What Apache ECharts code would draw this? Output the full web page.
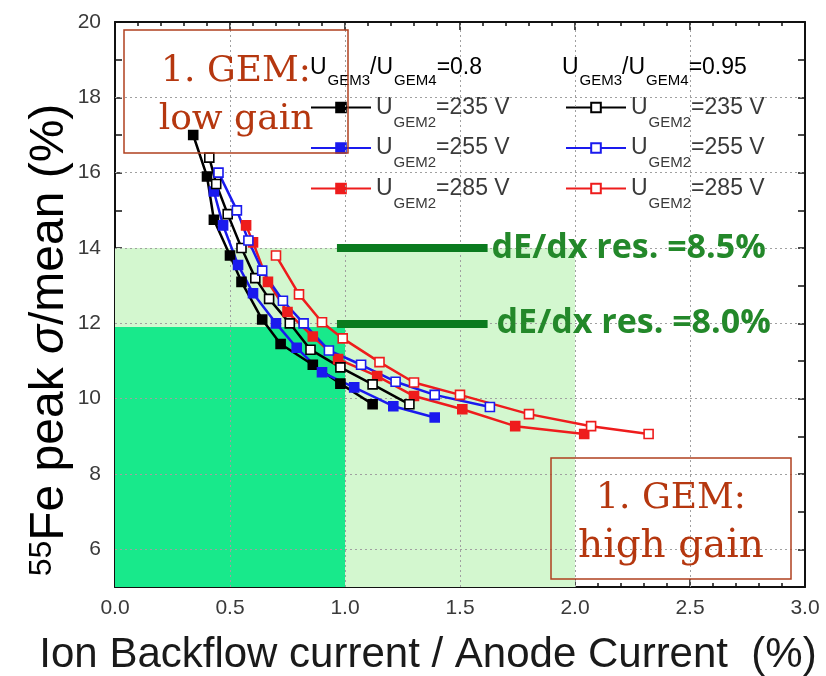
<!DOCTYPE html>
<html><head><meta charset="utf-8">
<script src="https://cdn.jsdelivr.net/npm/echarts@6/dist/echarts.min.js"></script>
<style>html,body{margin:0;padding:0;background:#fff}#c{width:826px;height:676px}</style>
</head><body><div id="c"></div>
<script>
// ---- data ----
const x_08_235 = [0.34, 0.40, 0.43, 0.50, 0.55, 0.64, 0.72, 0.86, 0.98, 1.12];
const y_08_235 = [17.0, 15.9, 14.75, 13.8, 13.1, 12.1, 11.45, 10.9, 10.4, 9.85];
const x_08_255 = [0.43, 0.47, 0.535, 0.60, 0.70, 0.79, 0.90, 1.04, 1.21, 1.39];
const y_08_255 = [15.5, 14.6, 13.55, 12.8, 12.0, 11.35, 10.7, 10.3, 9.8, 9.5];
const x_08_285 = [0.57, 0.60, 0.665, 0.75, 0.86, 0.97, 1.14, 1.30, 1.51, 1.74, 2.04];
const y_08_285 = [14.6, 14.15, 13.1, 12.3, 11.65, 11.05, 10.6, 10.07, 9.72, 9.27, 9.06];
const x_095_235 = [0.41, 0.44, 0.49, 0.55, 0.61, 0.67, 0.76, 0.85, 0.98, 1.12, 1.28];
const y_095_235 = [16.4, 15.7, 14.9, 14.0, 13.2, 12.65, 12.0, 11.3, 10.83, 10.38, 9.85];
const x_095_255 = [0.45, 0.53, 0.58, 0.64, 0.73, 0.82, 0.93, 1.07, 1.22, 1.39, 1.63];
const y_095_255 = [16.0, 15.0, 14.2, 13.4, 12.6, 12.0, 11.28, 10.9, 10.45, 10.1, 9.78];
const x_095_285 = [0.70, 0.80, 0.90, 0.99, 1.15, 1.30, 1.50, 1.80, 2.07, 2.32];
const y_095_285 = [13.8, 12.77, 12.03, 11.6, 10.97, 10.43, 10.1, 9.59, 9.27, 9.06];

const voltages = ['235', '255', '285'];
const ratios = ['0.8', '0.95'];
const yTickLabels = [6, 8, 10, 12, 14, 16, 18, 20];
const gridY = [6, 8, 10, 12, 14, 16, 18];
const gridX = [0.5, 1.0, 1.5, 2.0, 2.5];
// shaded regions: [xmin, ymin, xmax, ymax]
const lightRegion = [0, 5, 2.0, 14.0];
const brightRegion = [0, 5, 1.0, 11.9];
// resolution bars
const resY = [14.0, 12.0];
const resX0 = [0.965, 0.965];
const resX1 = [1.62, 1.62];
const resLabels = ['dE/dx res. =8.5%', 'dE/dx res. =8.0%'];

// ---- styles ----
const colors = ['#000000', '#1a1aee', '#ee1c1c'];
const FONT = 'Liberation Sans';
const TXT = '#3a3a3a';

const pairs = [
  [x_08_235, y_08_235], [x_08_255, y_08_255], [x_08_285, y_08_285],
  [x_095_235, y_095_235], [x_095_255, y_095_255], [x_095_285, y_095_285]
];
const seriesNames = [];
const dataSeries = pairs.map((p, i) => {
  const r = i < 3 ? 0 : 1, v = i % 3;
  const name = 'r' + ratios[r] + '_' + voltages[v];
  seriesNames.push(name);
  const c = colors[v];
  return {
    name, type: 'line', z: 5,
    data: p[0].map((x, k) => [x, p[1][k]]),
    symbol: 'rect', symbolSize: 9,
    lineStyle: { color: c, width: 2.5 },
    itemStyle: { color: r === 0 ? c : '#ffffff', borderColor: c, borderWidth: 1.6 },
    emphasis: { disabled: true }
  };
});

const legRich = {
  u: { fontSize: 23, lineHeight: 24, fontFamily: FONT, color: TXT },
  s: { fontSize: 15, lineHeight: 14, fontFamily: FONT, color: TXT, padding: [30, 0, 0, 1] }
};
function legFmt(name) {
  const v = name.split('_')[1];
  return '{u|U}{s|GEM2}{u|=' + v + ' V}';
}
function mkLegend(left, names) {
  return {
    left, top: 80, orient: 'vertical', itemWidth: 60, itemHeight: 12, itemGap: -4.5,
    data: names, formatter: legFmt, selectedMode: false,
    textStyle: { rich: legRich }
  };
}

const areaSeries = {
  type: 'line', data: [], z: 1, silent: true,
  markArea: {
    silent: true,
    data: [
      [{ coord: [lightRegion[0], lightRegion[1]], itemStyle: { color: '#d3f7cf' } }, { coord: [lightRegion[2], lightRegion[3]] }],
      [{ coord: [brightRegion[0], brightRegion[1]], itemStyle: { color: '#18e98b' } }, { coord: [brightRegion[2], brightRegion[3]] }]
    ]
  }
};
const gridSeries = {
  type: 'line', data: [], z: 2, silent: true,
  markLine: {
    silent: true, symbol: 'none', label: { show: false },
    lineStyle: { color: '#a0a0a0', type: [2, 3], width: 1 },
    data: gridY.map(v => ({ yAxis: v })).concat(gridX.map(v => ({ xAxis: v })))
  }
};
const resSeries = {
  type: 'line', data: [], z: 4, silent: true,
  markLine: {
    silent: true, symbol: 'none',
    lineStyle: { color: '#0b7b1f', type: 'solid', width: 8, cap: 'butt' },
    data: resY.map((y, i) => [
      { coord: [resX0[i], y] },
      { coord: [resX1[i], y], label: { show: true, position: 'end', distance: 4 + i * 5, formatter: resLabels[i],
        fontFamily: 'Open Sans', fontWeight: 'bold', fontSize: 34, color: '#23882a' } }
    ])
  }
};

const axisLine = { show: true, onZero: false, lineStyle: { color: '#111', width: 2 } };
const tickStyle = { color: '#111', width: 1.5 };
function xAx(pos, labels) {
  return {
    type: 'value', position: pos, min: 0, max: 3, interval: 0.5,
    axisLine, axisTick: { show: true, inside: true, length: 8, lineStyle: tickStyle },
    minorTick: { show: true, splitNumber: 5, length: 4, lineStyle: tickStyle },
    splitLine: { show: false },
    axisLabel: { show: labels, formatter: v => v.toFixed(1), fontSize: 21, fontFamily: FONT, color: TXT, margin: 11 }
  };
}
function yAx(pos, labels) {
  return {
    type: 'value', position: pos, min: 5, max: 20, interval: 1,
    axisLine, axisTick: { show: true, inside: true, length: 7, lineStyle: tickStyle },
    splitLine: { show: false },
    axisLabel: { show: labels, formatter: v => yTickLabels.includes(v) ? String(v) : '', fontSize: 21, fontFamily: FONT, color: TXT, margin: 14 }
  };
}

const headRich = {
  u: { fontSize: 23, lineHeight: 24, fontFamily: FONT, color: TXT },
  s: { fontSize: 15, lineHeight: 14, fontFamily: FONT, color: TXT, padding: [26, 0, 0, 1] }
};
const boxColor = '#b0401f';
const boxText = '#b5370f';
const serifStyle = { fontFamily: 'DejaVu Serif', fontSize: 36, lineHeight: 48, fill: boxText, align: 'center', verticalAlign: 'middle' };

const option = {
  animation: false,
  backgroundColor: '#ffffff',
  grid: { left: 115, top: 22, right: 21, bottom: 89, containLabel: false },
  xAxis: [xAx('bottom', true), xAx('top', false)],
  yAxis: [yAx('left', true), yAx('right', false)],
  legend: [mkLegend(305, seriesNames.slice(0, 3)), mkLegend(560, seriesNames.slice(3))],
  series: [areaSeries, gridSeries, resSeries].concat(dataSeries),
  graphic: [
    { type: 'text', left: 310, top: 47, z: 10, style: { text: '{u|U}{s|GEM3}{u|/U}{s|GEM4}{u|=0.8}', rich: headRich } },
    { type: 'text', left: 562, top: 47, z: 10, style: { text: '{u|U}{s|GEM3}{u|/U}{s|GEM4}{u|=0.95}', rich: headRich } },
    { type: 'rect', shape: { x: 124, y: 30, width: 224, height: 123 }, z: 10, style: { fill: 'none', stroke: boxColor, lineWidth: 1.5 } },
    { type: 'text', x: 236, y: 96, z: 10, style: Object.assign({ text: '1. GEM:\nlow gain' }, serifStyle) },
    { type: 'rect', shape: { x: 551, y: 458, width: 240, height: 121 }, z: 10, style: { fill: 'none', stroke: boxColor, lineWidth: 1.5 } },
    { type: 'text', x: 671, y: 523, z: 10, style: {
      text: '{a|1. GEM:}\n{b|high gain}', align: 'center', verticalAlign: 'middle', fill: boxText,
      rich: {
        a: { fontFamily: 'DejaVu Serif', fontSize: 36, lineHeight: 48, fill: boxText },
        b: { fontFamily: 'DejaVu Serif', fontSize: 39, lineHeight: 48, fill: boxText }
      } } },
    { type: 'text', x: 428, y: 655, z: 10, style: { text: 'Ion Backflow current / Anode Current  (%)', fontFamily: FONT, fontSize: 42, fill: '#1a1a1a', align: 'center', verticalAlign: 'middle' } },
    { type: 'text', x: 50, y: 340, rotation: Math.PI / 2, z: 10, style: {
      text: '{sup|55}{t|Fe peak }{i|σ}{t|/mean (%)}', align: 'center', verticalAlign: 'middle',
      rich: {
        t: { fontFamily: FONT, fontSize: 48, lineHeight: 52, color: '#1a1a1a' },
        i: { fontFamily: FONT, fontSize: 48, lineHeight: 52, color: '#1a1a1a', fontStyle: 'italic' },
        sup: { fontFamily: FONT, fontSize: 32, lineHeight: 34, color: '#1a1a1a', padding: [0, 0, 16, 0] }
      } } }
  ]
};
const chart = echarts.init(document.getElementById('c'), null, { renderer: 'canvas' });
chart.setOption(option);
</script></body></html>
